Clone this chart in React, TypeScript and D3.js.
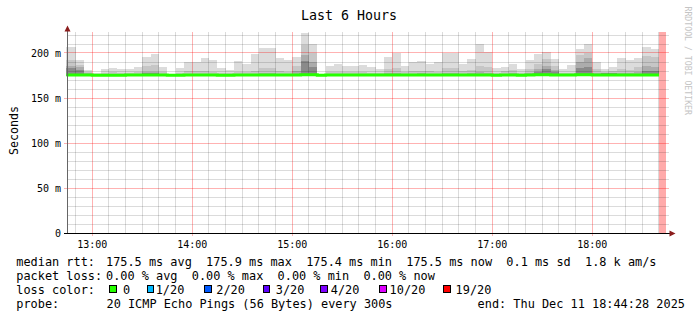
import React from 'react';
import * as d3 from 'd3';

// ---------- data ----------
// one value per 5-minute step, starting 12:45, ending 18:40
const smokeMax = [207, 192, 181, 178, 182.5, 183.5, 182, 182, 184.4, 196, 198.5, 185, 177, 183, 190, 190, 194, 192, 183.5, 181, 191, 188, 198.5, 206, 206, 194.8, 192, 196, 223, 209.6, 177, 186, 187.4, 186, 186, 186.7, 184.4, 182, 196, 200, 186, 190, 191, 187.4, 190, 200, 200, 188, 193, 209.6, 201, 183, 185, 188, 182, 192, 199, 201.5, 193.7, 182, 186.7, 205, 209.6, 190, 182, 184, 195, 192, 195, 206.7, 204.4];
const smokeUpper = [192, 187, 179, 177, 178, 178.5, 178, 178, 179, 186, 187, 179, 176.5, 178, 180, 180, 180, 179, 178, 177.5, 179, 179, 180, 183, 183, 180, 179, 186, 209, 200, 176.5, 179, 179, 179, 178.5, 179, 178, 178, 182, 183, 179, 180, 180, 180, 179, 183, 183, 180, 181, 186, 184, 178, 180, 181, 178, 182, 188, 193, 186, 178, 178, 198, 200, 182, 179, 180, 182, 181, 184, 197, 196];
const smokeInner = [186, 184, 177.5, 176, 176.5, 177, 176.5, 176.5, 177, 179, 179, 177, 176, 176.5, 177, 177, 177, 177, 176.5, 176, 177, 177, 177, 178, 178, 177, 177, 180, 198, 190, 176, 177, 177, 177, 176.5, 177, 176.5, 176.5, 178, 178, 177, 177, 177.5, 177, 177, 178, 178, 177, 177.5, 179, 178, 176.5, 177, 178, 176.5, 178, 182, 186, 181, 176.5, 176.5, 190, 194, 178, 178, 178, 178, 177.5, 179, 186, 185];
const smokeCore = [183, 181, 176, 176, 176, 176, 176, 176, 176, 177.5, 177.5, 176, 176, 176, 176, 176, 176, 176, 176, 176, 176, 176, 176, 176.5, 176.5, 176, 176, 177, 191, 184, 176, 176, 176, 176, 176, 176, 176, 176, 176, 176, 176, 176, 176, 176, 176, 176, 176, 176, 177, 177, 176, 176, 176, 176, 176, 176, 179, 182, 179, 176, 176, 183, 184, 176, 178, 178, 176, 176, 176, 180, 180];
const smokeMin = [174.6, 174.8, 174.9, 174.9, 174.7, 174.8, 174.8, 174.9, 174.8, 174.6, 174.6, 174.8, 174.9, 174.8, 174.7, 174.7, 174.7, 174.8, 174.8, 174.9, 174.7, 174.8, 174.7, 174.3, 174.3, 174.7, 174.8, 174.6, 174.5, 174.6, 174.9, 174.7, 174.7, 174.7, 174.8, 174.8, 174.8, 174.9, 174.6, 174.6, 174.8, 174.7, 174.7, 174.7, 174.7, 174.6, 174.6, 174.7, 174.7, 174.5, 174.6, 174.9, 174.8, 174.7, 174.9, 174.6, 174.5, 174.5, 174.6, 174.9, 174.8, 174.5, 174.5, 174.7, 174.8, 174.8, 174.5, 174.6, 174.5, 174.4, 174.4];
const medianRtt = [175.6, 175.5, 175.5, 175.4, 175.4, 175.4, 175.4, 175.5, 175.5, 175.6, 175.6, 175.5, 175.4, 175.4, 175.5, 175.5, 175.5, 175.5, 175.4, 175.4, 175.5, 175.5, 175.5, 175.5, 175.5, 175.5, 175.5, 175.6, 175.9, 175.7, 175.4, 175.5, 175.5, 175.5, 175.5, 175.5, 175.5, 175.5, 175.5, 175.5, 175.5, 175.5, 175.5, 175.5, 175.5, 175.5, 175.5, 175.5, 175.5, 175.6, 175.5, 175.4, 175.5, 175.5, 175.4, 175.6, 175.7, 175.8, 175.6, 175.5, 175.5, 175.7, 175.8, 175.5, 175.6, 175.6, 175.5, 175.5, 175.5, 175.6, 175.6];

const yTickValues = [0, 50, 100, 150, 200];
const yTickLabels = ['0', '50 m', '100 m', '150 m', '200 m'];
const lossLabels = ['0', '1/20', '2/20', '3/20', '4/20', '10/20', '19/20'];
const lossColors = ['#26ff00', '#00b8ff', '#0059ff', '#5e00ff', '#7e00ff', '#dd00ff', '#ff0000'];
const rttLabel = 'median rtt:';
const rttStats = '175.5 ms avg  175.9 ms max  175.4 ms min  175.5 ms now  0.1 ms sd  1.8 k am/s';
const lossLabel = 'packet loss:';
const lossStats = '0.00 % avg  0.00 % max  0.00 % min  0.00 % now';
const colorLabel = 'loss color:';
const probeLabel = 'probe:';
const probeText = '20 ICMP Echo Pings (56 Bytes) every 300s';
const endText = 'end: Thu Dec 11 18:44:28 2025';
const titleText = 'Last 6 Hours';
const yAxisTitle = 'Seconds';
const watermark = 'RRDTOOL / TOBI OETIKER';

// ---------- layout ----------
const W = 697, H = 321;
const PLOT_L = 66.4, PLOT_R = 666.4, PLOT_T = 33, PLOT_B = 233;
const MONO = '"DejaVu Sans Mono", monospace';
const LEG_BOX_X = [109.3, 146.7, 204, 262.7, 320, 379, 443.3];
const LEG_TXT_X = [123, 155.7, 216.3, 275.8, 330.8, 389.6, 455.6];

const tStart = new Date(2025, 11, 11, 12, 44, 28);
const tEnd = new Date(2025, 11, 11, 18, 44, 28);
const firstBar = new Date(2025, 11, 11, 12, 45, 0);

export default function App() {
  const x = d3.scaleTime().domain([tStart, tEnd]).range([PLOT_L, PLOT_R]);
  const y = d3.scaleLinear().domain([0, 2000 / 9]).range([PLOT_B, PLOT_T]);

  const bars = smokeMax.map((mx, i) => {
    const s = d3.timeMinute.offset(firstBar, 5 * i);
    const e = d3.timeMinute.offset(firstBar, 5 * (i + 1));
    const x0 = i === 0 ? x(tStart) : x(s);
    const x1 = x(e);
    return { x0, x1, mx, up: smokeUpper[i], inn: smokeInner[i], core: smokeCore[i], mn: smokeMin[i], med: medianRtt[i] };
  });
  const dataEnd = bars[bars.length - 1].x1;

  const medPts: [number, number][] = [];
  bars.forEach((b) => { medPts.push([b.x0, y(b.med)]); });
  medPts.push([dataEnd, y(medianRtt[medianRtt.length - 1])]);
  const medLine = d3.line().curve(d3.curveStepAfter)(medPts) || '';

  const minorX = x.ticks(d3.timeMinute.every(10)!);
  const majorX = x.ticks(d3.timeHour.every(1)!);
  const fmt = d3.timeFormat('%H:%M');
  const minorY = d3.range(0, 221, 10);

  const px = (v: number) => Math.floor(v) + 0.5;
  const layers: [keyof typeof bars[0], string][] = [
    ['mx', '#dcdcdc'], ['up', '#c6c6c6'], ['inn', '#acacac'], ['core', '#8a8a8a'],
  ];

  return (
    <svg width={W} height={H} style={{ position: 'fixed', left: 0, top: 0, display: 'block', background: '#fff' }}
      fontFamily={MONO}>
      <rect x={0} y={0} width={W} height={H} fill="#fff" />
      {/* smoke */}
      <g shapeRendering="crispEdges">
        {layers.map(([k, c]) => (
          <g key={k as string} fill={c}>
            {bars.map((b, i) => {
              const top = y(Math.min(b[k] as number, 2000 / 9));
              return <rect key={i} x={b.x0} width={b.x1 - b.x0} y={top} height={Math.max(0, y(b.mn) - top)} />;
            })}
          </g>
        ))}
        {/* unknown region */}
        <rect x={dataEnd} y={PLOT_T - 1} width={PLOT_R - dataEnd} height={PLOT_B - PLOT_T + 1} fill="#ffaaaa" />
      </g>
      {/* grid */}
      <g shapeRendering="crispEdges">
        {minorY.map((v) => (
          <line key={'hy' + v} x1={v % 50 === 0 ? 64 : 67} x2={668.5} y1={px(y(v))} y2={px(y(v))}
            stroke={v % 50 === 0 ? 'rgba(255,0,0,0.3)' : 'rgba(0,0,0,0.14)'} />
        ))}
        {minorX.map((t, i) => {
          const major = t.getMinutes() === 0;
          return <line key={'vx' + i} x1={px(x(t))} x2={px(x(t))} y1={PLOT_T - 1} y2={major ? 236 : PLOT_B}
            stroke={major ? 'rgba(255,0,0,0.3)' : 'rgba(0,0,0,0.14)'} />;
        })}
      </g>
      {/* median line */}
      <path d={medLine} fill="none" stroke="#26ff00" strokeWidth={3} />
      {/* axes */}
      <g shapeRendering="crispEdges">
        <line x1={67.5} x2={67.5} y1={29} y2={PLOT_B} stroke="#666" />
        <line x1={64} x2={670} y1={233.5} y2={233.5} stroke="#000" />
      </g>
      <path d="M67.5,25.5 L64.5,31.5 L70.5,31.5 Z" fill="#8b1c1c" />
      <path d="M675.5,233.5 L669.5,230.5 L669.5,236.5 Z" fill="#8b1c1c" />
      {/* y tick labels */}
      {yTickValues.map((v, i) => (
        <text key={'yl' + v} x={61} y={y(v) + 3.7} textAnchor="end" fontSize={10} fill="#000">{yTickLabels[i]}</text>
      ))}
      {/* x tick labels */}
      {majorX.map((t, i) => (
        <text key={'xl' + i} x={x(t)} y={247.5} textAnchor="middle" fontSize={10} fill="#000">{fmt(t)}</text>
      ))}
      {/* titles */}
      <text x={349} y={20} textAnchor="middle" fontSize={13.3} fill="#000">{titleText}</text>
      <text transform="translate(18.3,130.5) rotate(-90)" textAnchor="middle" fontSize={11.6} fill="#000">{yAxisTitle}</text>
      <text transform="translate(684.5,6.5) rotate(90)" fontSize={8.2} fill="#c4c4c4">{watermark}</text>
      {/* legend */}
      <g fontSize={11.88} fill="#000" style={{ whiteSpace: 'pre' }}>
        <text x={16.3} y={265.6}>{rttLabel}</text>
        <text x={106} y={265.6} xmlSpace="preserve">{rttStats}</text>
        <text x={16.3} y={279.6}>{lossLabel}</text>
        <text x={106} y={279.6} xmlSpace="preserve">{lossStats}</text>
        <text x={16.3} y={293.6}>{colorLabel}</text>
        {lossLabels.map((l, i) => (
          <g key={'lg' + i}>
            <rect x={LEG_BOX_X[i] + 0.5} y={285.5} width={6.6} height={6.6} fill={lossColors[i]} stroke="#000" strokeWidth={1} shapeRendering="crispEdges" />
            <text x={LEG_TXT_X[i]} y={293.6}>{l}</text>
          </g>
        ))}
        <text x={16.3} y={307.6}>{probeLabel}</text>
        <text x={106.5} y={307.6} xmlSpace="preserve">{probeText}</text>
        <text x={477.6} y={307.6}>{endText}</text>
      </g>
    </svg>
  );
}
